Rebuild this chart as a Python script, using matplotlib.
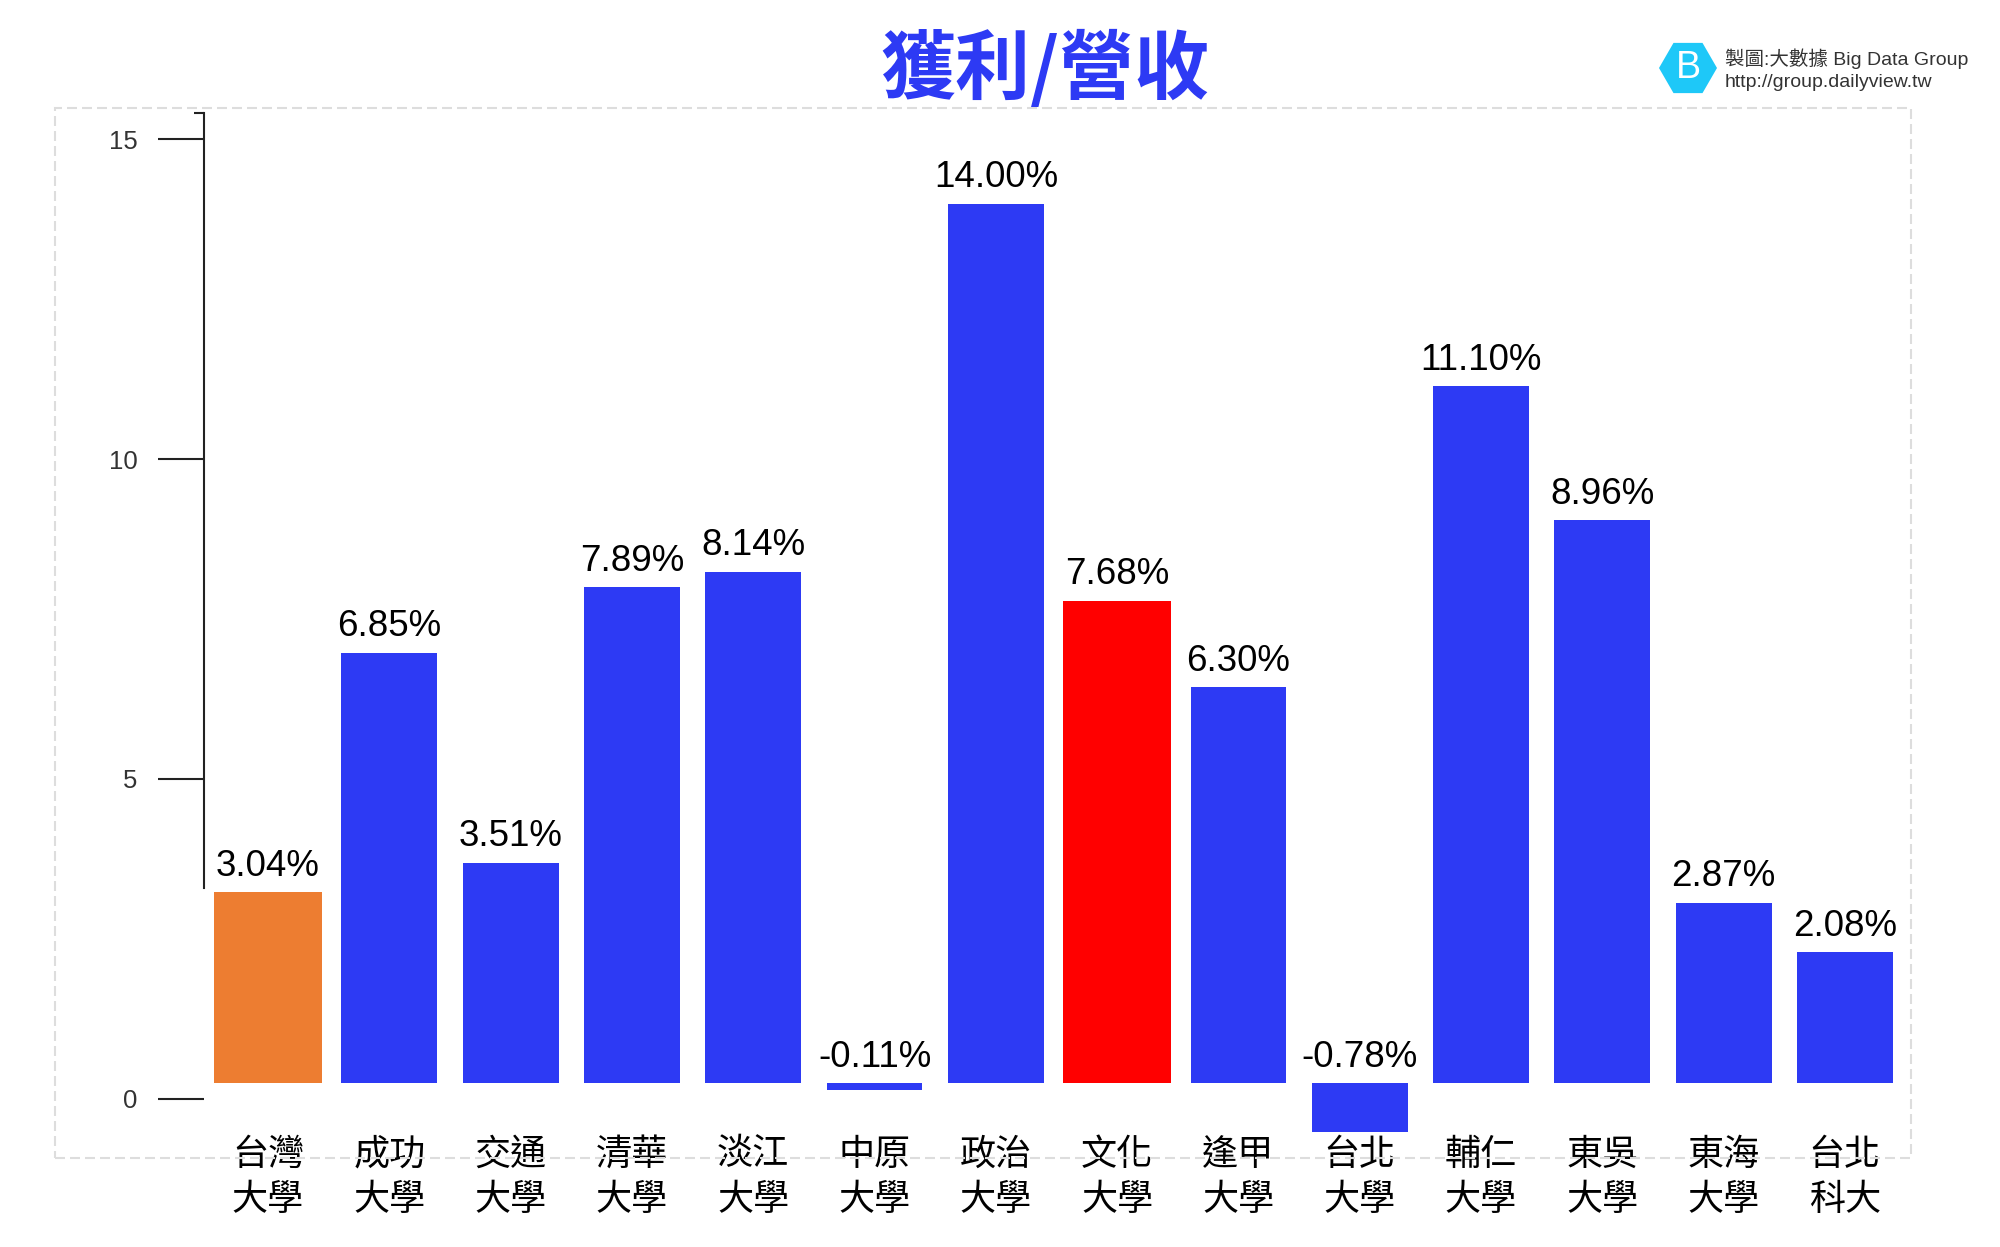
import numpy as np
import matplotlib
matplotlib.use('Agg')
import matplotlib.pyplot as plt
from matplotlib.patches import Rectangle, RegularPolygon

# =============================================================================
# DATOS
# =============================================================================

schools = ['台灣\n大學', '成功\n大學', '交通\n大學', '清華\n大學', '淡江\n大學',
           '中原\n大學', '政治\n大學', '文化\n大學', '逢甲\n大學', '台北\n大學',
           '輔仁\n大學', '東吳\n大學', '東海\n大學', '台北\n科大']
margin = [3.04, 6.85, 3.51, 7.89, 8.14, -0.11, 14.00, 7.68, 6.30, -0.78,
          11.10, 8.96, 2.87, 2.08]
y_ticks = [0, 5, 10, 15]

BLUE = '#2D3AF4'
highlight = {'台灣\n大學': '#ED7D31', '文化\n大學': '#FF0000'}

cjk = ['Noto Sans CJK TC', 'DejaVu Sans']
latin = ['Liberation Sans', 'Noto Sans CJK TC', 'DejaVu Sans']

# =============================================================================
# FIGURA
# =============================================================================

fig = plt.figure(figsize=(20, 12.47), dpi=100)
rect = [0.102, 0.0674, 0.8535, 0.8519]

# eje de escala (solo el eje y dibujado)
ax = fig.add_axes(rect)
# eje de barras (la linea base de las barras queda un poco por encima del 0 del eje)
axb = fig.add_axes(rect, sharex=ax)
axb.patch.set_visible(False)

x = np.arange(len(schools))
colors = [highlight.get(s, BLUE) for s in schools]
widths = [0.89 if s in highlight else 0.79 for s in schools]

axb.bar(x, margin, width=widths, color=colors, clip_on=False, zorder=3)

for xi, v in zip(x, margin):
    axb.annotate(f'{v:.2f}%', xy=(xi, max(v, 0)), xytext=(0, 6),
                 textcoords='offset points', ha='center', va='bottom',
                 fontsize=26.5, family=latin, color='black')

ax.set_xlim(-0.528, 13.545)
ax.set_ylim(-1, 15.6)
axb.set_ylim(-1.274, 15.643)

# eje y
ax.set_yticks(y_ticks)
ax.set_yticklabels([str(t) for t in y_ticks], family=latin, fontsize=18.5, color='#333333')
ax.tick_params(axis='y', length=33, width=1.5, color='#222222', pad=15)
ax.set_yticks([15.41], minor=True)
ax.tick_params(axis='y', which='minor', length=7, width=1.5, color='#222222')
ax.spines['left'].set_bounds(3.3, 15.41)
ax.spines['left'].set_linewidth(1.5)
ax.spines['left'].set_color('#222222')
for side in ['top', 'right', 'bottom']:
    ax.spines[side].set_visible(False)
for side in ['top', 'right', 'bottom', 'left']:
    axb.spines[side].set_visible(False)
axb.set_yticks([])

# eje x
ax.set_xticks(x)
ax.set_xticklabels(schools, family=cjk, fontsize=26, fontweight='light', color='black')
for t in ax.get_xticklabels():
    t.set_linespacing(1.32)
ax.tick_params(axis='x', length=0, pad=-19)
axb.tick_params(axis='x', length=0, labelbottom=False)

# marco punteado
fig.patches.append(Rectangle((0.0275, 0.0714), 0.928, 0.842, transform=fig.transFigure,
                             fill=False, ec='#dddddd', lw=1.5, ls=(0, (4.8, 2.4)), zorder=0))

# titulo
fig.text(0.5225, 0.9437, '獲利/營收', ha='center', va='center', fontsize=54,
         fontweight='bold', family=cjk, color=BLUE)

# logo
fig.patches.append(RegularPolygon((16.88, 11.79), numVertices=6, radius=0.29,
                                  orientation=np.pi / 6, transform=fig.dpi_scale_trans,
                                  fc='#1EC8F8', ec='none'))
fig.text(0.844, 0.9455, 'B', ha='center', va='center', fontsize=27, color='white',
         family=latin)
fig.text(0.8625, 0.9527, '製圖:大數據 Big Data Group', ha='left', va='center',
         fontsize=14, family=latin, color='#333333')
fig.text(0.8625, 0.9342, 'http://group.dailyview.tw', ha='left', va='center',
         fontsize=14, family=latin, color='#333333')

plt.savefig('out.png', dpi=100, facecolor='white')
plt.close()
